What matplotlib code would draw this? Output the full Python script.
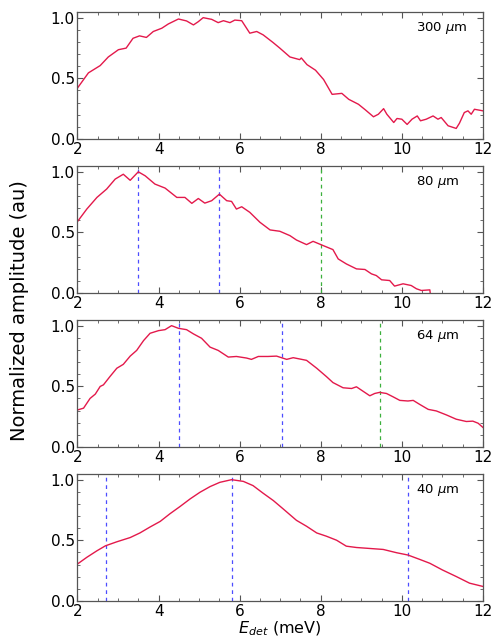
import numpy as np
import matplotlib
matplotlib.use("Agg")
import matplotlib.pyplot as plt
from matplotlib.ticker import MultipleLocator, FormatStrFormatter

# detector energy (meV) and normalized amplitude for each sample thickness
e_300 = [2.0, 2.27, 2.56, 2.76, 3.01, 3.2, 3.37, 3.53, 3.7, 3.87, 4.08, 4.24, 4.49, 4.69,
         4.86, 4.98, 5.1, 5.31, 5.47, 5.6, 5.76, 5.88, 6.05, 6.25, 6.42, 6.58, 6.82, 6.99,
         7.24, 7.48, 7.52, 7.66, 7.87, 8.07, 8.28, 8.52, 8.69, 8.93, 9.1, 9.3, 9.42, 9.55,
         9.63, 9.8, 9.88, 10.0, 10.13, 10.25, 10.38, 10.46, 10.6, 10.77, 10.89, 10.97,
         11.14, 11.34, 11.42, 11.54, 11.63, 11.71, 11.79, 12.0]
a_300 = [0.42, 0.545, 0.605, 0.676, 0.736, 0.749, 0.83, 0.85, 0.837, 0.886, 0.913, 0.948,
         0.989, 0.973, 0.94, 0.967, 1.0, 0.986, 0.959, 0.975, 0.959, 0.98, 0.975, 0.872,
         0.886, 0.858, 0.796, 0.749, 0.676, 0.654, 0.668, 0.613, 0.567, 0.49, 0.368, 0.376,
         0.327, 0.286, 0.24, 0.183, 0.204, 0.25, 0.204, 0.136, 0.169, 0.163, 0.12, 0.163,
         0.19, 0.15, 0.163, 0.19, 0.163, 0.177, 0.109, 0.087, 0.13, 0.218, 0.232, 0.204,
         0.245, 0.232]

e_80 = [2.0, 2.23, 2.48, 2.72, 2.93, 3.13, 3.3, 3.5, 3.67, 3.91, 4.16, 4.45, 4.65, 4.82,
        4.98, 5.14, 5.31, 5.5, 5.68, 5.8, 5.92, 6.05, 6.25, 6.5, 6.75, 6.99, 7.24, 7.4,
        7.65, 7.81, 8.06, 8.3, 8.43, 8.63, 8.88, 9.09, 9.25, 9.37, 9.5, 9.7, 9.82, 10.03,
        10.23, 10.36, 10.48, 10.69, 10.7]
a_80 = [0.59, 0.693, 0.789, 0.858, 0.94, 0.98, 0.93, 1.0, 0.967, 0.899, 0.866, 0.789,
        0.789, 0.74, 0.78, 0.742, 0.762, 0.816, 0.762, 0.756, 0.693, 0.712, 0.666, 0.584,
        0.521, 0.51, 0.474, 0.438, 0.4, 0.427, 0.392, 0.359, 0.282, 0.241, 0.2, 0.195,
        0.159, 0.145, 0.11, 0.104, 0.058, 0.077, 0.063, 0.036, 0.022, 0.027, 0.0]

e_64 = [2.0, 2.15, 2.31, 2.44, 2.56, 2.64, 2.8, 2.97, 3.13, 3.3, 3.46, 3.63, 3.79, 4.0,
        4.16, 4.32, 4.49, 4.69, 4.86, 5.06, 5.27, 5.47, 5.72, 5.92, 6.17, 6.29, 6.46, 6.7,
        6.91, 7.16, 7.32, 7.65, 7.9, 8.14, 8.3, 8.55, 8.76, 8.88, 9.0, 9.21, 9.33, 9.45,
        9.62, 9.78, 9.95, 10.15, 10.28, 10.44, 10.65, 10.85, 11.1, 11.34, 11.59, 11.75,
        11.88, 12.0]
a_64 = [0.305, 0.32, 0.4, 0.436, 0.499, 0.512, 0.58, 0.649, 0.681, 0.749, 0.796, 0.877,
        0.937, 0.959, 0.967, 1.0, 0.978, 0.967, 0.932, 0.896, 0.823, 0.796, 0.741, 0.746,
        0.733, 0.722, 0.746, 0.746, 0.749, 0.722, 0.736, 0.714, 0.649, 0.58, 0.531, 0.488,
        0.482, 0.496, 0.469, 0.422, 0.441, 0.45, 0.441, 0.414, 0.384, 0.379, 0.384, 0.351,
        0.31, 0.297, 0.264, 0.229, 0.21, 0.213, 0.196, 0.161]

e_40 = [2.0, 2.23, 2.48, 2.69, 2.97, 3.3, 3.54, 3.79, 4.04, 4.28, 4.53, 4.78, 5.02, 5.27,
        5.51, 5.8, 6.09, 6.33, 6.58, 6.83, 7.07, 7.4, 7.65, 7.9, 8.14, 8.39, 8.63, 8.88,
        9.21, 9.54, 9.87, 10.15, 10.44, 10.69, 11.0, 11.34, 11.67, 12.0]
a_40 = [0.305, 0.36, 0.414, 0.455, 0.488, 0.523, 0.561, 0.61, 0.656, 0.719, 0.779, 0.842,
        0.896, 0.943, 0.978, 1.0, 0.986, 0.951, 0.888, 0.828, 0.76, 0.665, 0.616, 0.561,
        0.534, 0.501, 0.452, 0.441, 0.433, 0.425, 0.398, 0.379, 0.343, 0.311, 0.256,
        0.202, 0.147, 0.12]

labels = ["300 $\\mu$m", "80 $\\mu$m", "64 $\\mu$m", "40 $\\mu$m"]
energies = [e_300, e_80, e_64, e_40]
amps = [a_300, a_80, a_64, a_40]

# marker positions (meV) and their colours per panel
marks = [[], [3.5, 5.5, 8.0], [4.5, 7.05, 9.45], [2.7, 5.8, 10.15]]
mark_cols = [[], ["b", "b", "g"], ["b", "b", "g"], ["b", "b", "b"]]
colmap = {"b": "#4d4dff", "g": "#3cb03c"}

fig = plt.figure(figsize=(4.96, 6.37), dpi=100)
left, width, height = 0.1562, 0.8175, 0.2
bottoms = [0.7818, 0.5398, 0.2983, 0.0565]

for i in range(4):
    ax = fig.add_axes([left, bottoms[i], width, height])
    for xv, c in zip(marks[i], mark_cols[i]):
        ax.axvline(xv, color=colmap[c], ls=(0, (3, 3)), lw=0.9)
    ax.plot(energies[i], amps[i], color="#e3194b", lw=1.0)
    ax.set_xlim(2, 12)
    ax.set_ylim(0, 1.05)
    ax.xaxis.set_major_locator(MultipleLocator(2))
    ax.xaxis.set_minor_locator(MultipleLocator(0.5))
    ax.yaxis.set_major_locator(MultipleLocator(0.5))
    ax.yaxis.set_minor_locator(MultipleLocator(0.1))
    ax.yaxis.set_major_formatter(FormatStrFormatter("%.1f"))
    ax.tick_params(which="both", direction="in", top=True, right=True,
                   labelsize=11, color="#555555")
    ax.tick_params(which="major", length=4, width=0.8, pad=2)
    ax.tick_params(which="minor", length=2, width=0.6)
    for s in ax.spines.values():
        s.set_color("#555555")
        s.set_linewidth(0.9)
    ax.text(0.835, 0.87, labels[i], transform=ax.transAxes, fontsize=9.5,
            ha="left", va="center")
    if i == 3:
        ax.set_xlabel("$E_{det}$ (meV)", fontsize=11.5, labelpad=0.5)

fig.text(0.04, 0.512, "Normalized amplitude (au)", rotation=90, fontsize=14,
         ha="center", va="center")

fig.savefig("out.png", dpi=100)
